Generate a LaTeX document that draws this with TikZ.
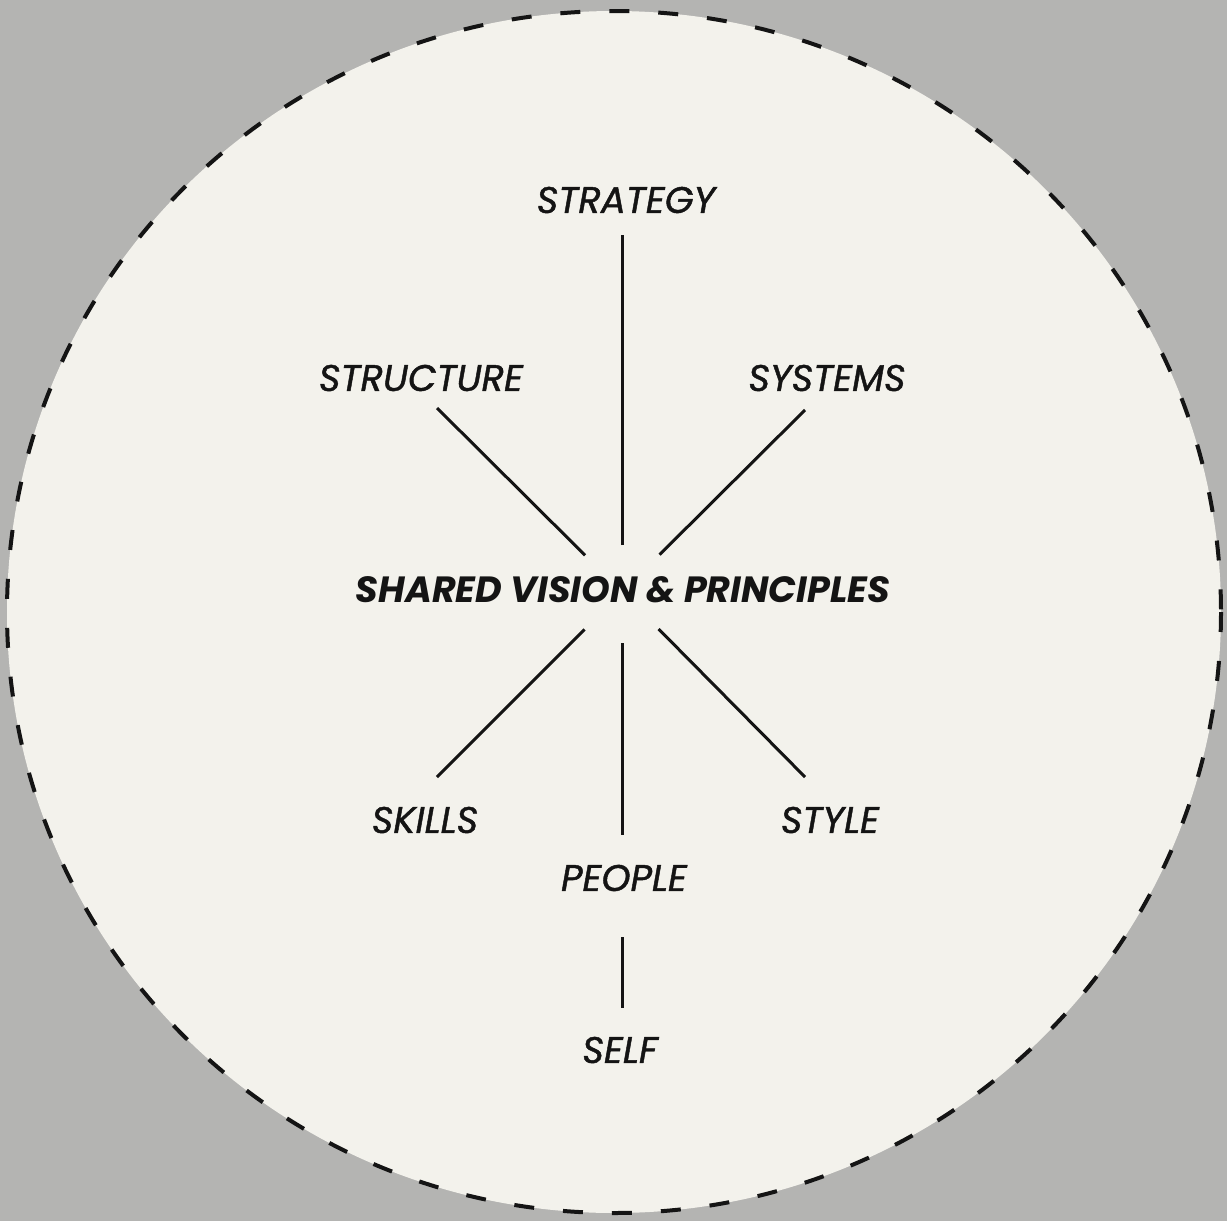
\documentclass[tikz,border=0pt]{standalone}
\usepackage{fontspec}
\setmainfont{Poppins}
\newfontface\lblfont{Poppins Italic}[FakeBold=1.2]
\usetikzlibrary{calc}
\definecolor{bggray}{HTML}{B4B4B2}
\definecolor{paper}{HTML}{F3F2EC}
\definecolor{ink}{HTML}{141414}
\tikzset{
  lbl/.style={font=\fontsize{37}{40}\selectfont\lblfont, text=ink, inner sep=2pt},
  hublbl/.style={font=\fontsize{36.5}{40}\selectfont\bfseries\itshape, text=ink, inner sep=2pt},
  spoke/.style={draw=ink, line width=3pt},
  rim/.style={draw=ink, line width=4pt, dash pattern=on 20pt off 29pt}
}
\begin{document}
\begin{tikzpicture}[x=1pt,y=-1pt]
\useasboundingbox (0,0) rectangle (1227,1221);
\fill[bggray] (0,0) rectangle (1227,1221);
\filldraw[fill=paper, rim] (614,612) ellipse[x radius=607, y radius=601];
\node[hublbl] (hub) at (623,590) {SHARED VISION \& PRINCIPLES};
\coordinate (c) at (622,592);
\node[lbl] (strategy) at (626,200) {STRATEGY};
\node[lbl] (structure) at (421,378) {STRUCTURE};
\node[lbl] (systems) at (827,378) {SYSTEMS};
\node[lbl] (skills) at (425,820) {SKILLS};
\node[lbl] (style) at (830,820) {STYLE};
\node[lbl] (people) at (624,878) {PEOPLE};
\node[lbl] (self) at (620,1050) {SELF};
\coordinate (tStrategy) at (622,235);
\coordinate (tStructure) at (437,408);
\coordinate (tSystems) at (805,410);
\coordinate (tSkills) at (437,777);
\coordinate (tStyle) at (805,777);
\coordinate (tPeople) at (622,835);
\draw[spoke, shorten <=47pt] (c) -- (tStrategy);
\draw[spoke, shorten <=52pt] (c) -- (tStructure);
\draw[spoke, shorten <=53pt] (c) -- (tSystems);
\draw[spoke, shorten <=53pt] (c) -- (tSkills);
\draw[spoke, shorten <=52pt] (c) -- (tStyle);
\draw[spoke, shorten <=51pt] (c) -- (tPeople);
\draw[spoke] ($(people.south -| c)+(0,44)$) -- ($(self.north -| c)+(0,-27)$);
\end{tikzpicture}
\end{document}
